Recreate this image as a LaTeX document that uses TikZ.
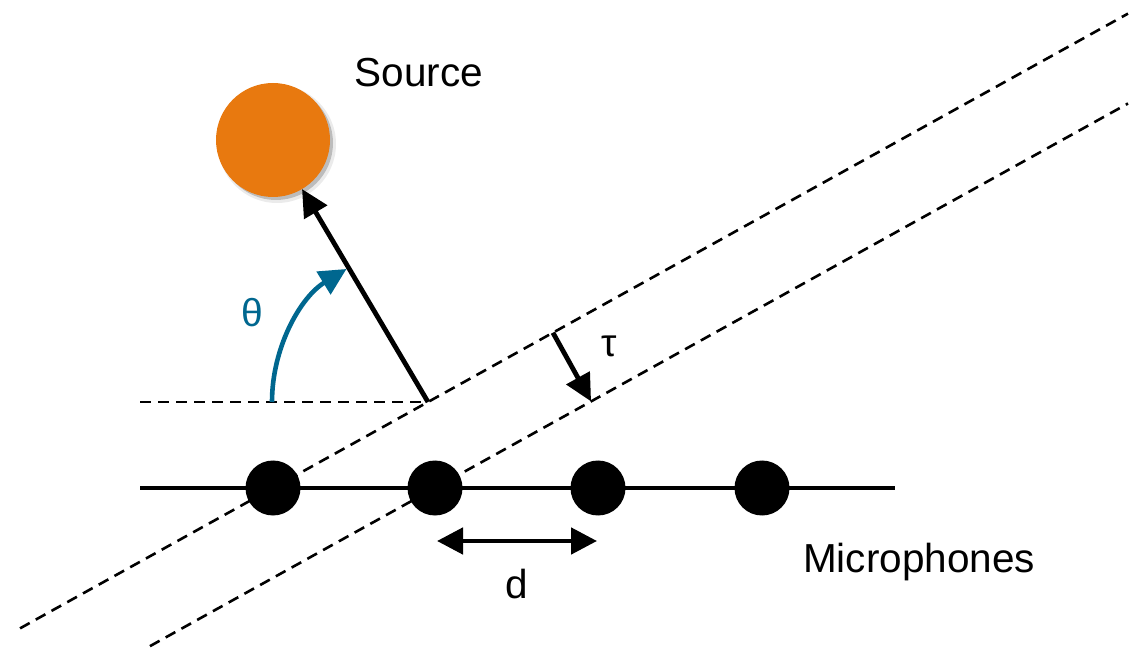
\documentclass[tikz,border=0pt]{standalone}
\usepackage{fontspec}
\setmainfont{Liberation Sans}
\usetikzlibrary{arrows.meta,calc}

\definecolor{srcorange}{HTML}{E8790F}
\definecolor{angleblue}{HTML}{00678F}

\tikzset{
  lbl/.style={font=\fontsize{40.5}{48}\selectfont, inner sep=0pt, anchor=base},
  symlbl/.style={font=\fontsize{39}{46}\selectfont, inner sep=0pt, anchor=base},
  mic/.style={circle, fill=black, minimum size=55pt, inner sep=0pt, outer sep=0pt},
  wave/.style={line width=2.6pt, dash pattern=on 11pt off 7pt, black},
  arrowhd/.style={-{Triangle[length=27pt,width=26pt]}},
  twohd/.style={{Triangle[length=26pt,width=26pt]}-{Triangle[length=26pt,width=26pt]}},
  heavy/.style={line width=4.8pt, black}
}

\begin{document}
\begin{tikzpicture}[x=1pt, y=1pt]
  \useasboundingbox (0,0) rectangle (1142,648);

  % microphone positions and the wavefront origin
  \coordinate (p1) at (273,160);
  \coordinate (p2) at (435,160);
  \coordinate (p3) at (598,160);
  \coordinate (p4) at (762,160);
  \coordinate (base) at (428,246);

  % plane wavefronts: one through mic 1 and the origin, one parallel through mic 2
  \coordinate (w1a) at ($(p1)!-1.632!(base)$);
  \coordinate (w1b) at ($(p1)!5.516!(base)$);
  \coordinate (w2a) at ($(p2)!-1.839!($(p2)+(base)-(p1)$)$);
  \coordinate (w2b) at ($(p2)!4.471!($(p2)+(base)-(p1)$)$);
  \draw[wave] (w1a) -- (w1b);
  \draw[wave] (w2a) -- (w2b);

  % horizontal reference
  \coordinate (href) at (140,246);
  \draw[wave] (href) -- (base);

  % microphone array
  \coordinate (aL) at (140,160);
  \coordinate (aR) at (895,160);
  \draw[line width=3.8pt] (aL) -- (aR);
  \node[mic] (m1) at (p1) {};
  \node[mic] (m2) at (p2) {};
  \node[mic] (m3) at (p3) {};
  \node[mic] (m4) at (p4) {};
  \node[lbl] (miclbl) at (919,76) {Microphones};

  % spacing d
  \coordinate (da) at ($(m2.center)+(2,-53)$);
  \coordinate (db) at ($(m3.center)+(-1,-53)$);
  \draw[heavy, twohd] (da) -- (db);
  \node[lbl] (dlbl) at (517,50) {d};

  % source with a soft shadow
  \coordinate (sc) at (273,508);
  \fill[black, opacity=0.08] ($(sc)+(4,-4)$) circle (59);
  \fill[black, opacity=0.20] ($(sc)+(3,-3)$) circle (57);
  \node[circle, fill=srcorange, minimum size=114pt, inner sep=0pt, outer sep=0pt] (src) at (sc) {};
  \node[lbl] (srclbl) at (419,561) {Source};

  % direction of arrival
  \draw[heavy, arrowhd] (base) -- (src);

  % angle theta
  \draw[line width=4.6pt, angleblue, arrowhd] ($(base)+(180:156)$) arc[start angle=180, end angle=121.5, radius=156];
  \node[symlbl, text=angleblue] (theta) at (252,321) {θ};

  % delay tau between wavefronts
  \coordinate (t1) at ($(p1)!1.806!(base)$);
  \coordinate (t2) at ($(w2a)!(t1)!(w2b)$);
  \draw[heavy, arrowhd] (t1) -- (t2);
  \node[symlbl] (tau) at (609,291) {τ};
\end{tikzpicture}
\end{document}
